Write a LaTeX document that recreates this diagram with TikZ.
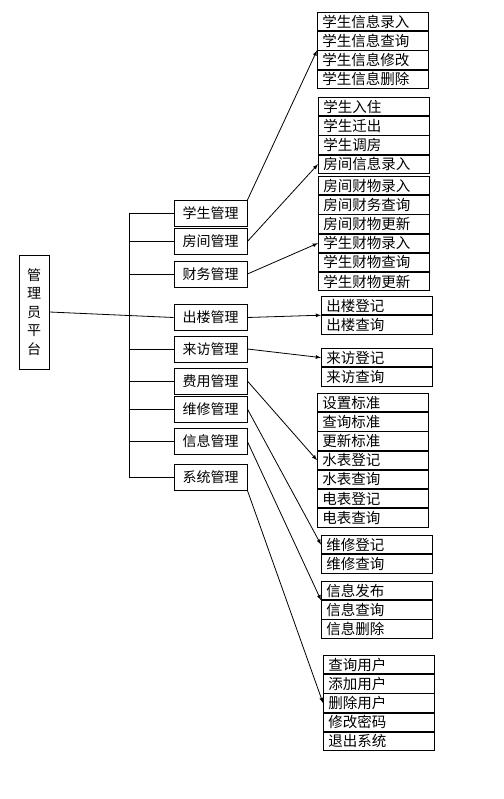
\documentclass[tikz,border=0pt]{standalone}
\usepackage{fontspec}
\newfontfamily\cjk{Noto Sans CJK SC}
\usetikzlibrary{positioning}

\begin{document}
\begin{tikzpicture}[x=1pt, y=-1pt, line width=0.8pt,
    sub/.style={draw, minimum width=73pt, minimum height=26pt, inner sep=0pt, font=\cjk\fontsize{14}{16}\selectfont},
    item/.style={draw, minimum height=18.4pt, inner xsep=5pt, inner ysep=0pt, text width=101pt, text height=14pt, text depth=3pt,
                 align=left, font=\cjk\fontsize{14.5}{16}\selectfont}]

        \useasboundingbox (0, 0) rectangle (503, 799);

        \node[draw, minimum width=30pt, minimum height=114pt, inner sep=0pt, align=center,
              font=\cjk\fontsize{14}{18.6}\selectfont] (pt) at (34, 312) {管\\理\\员\\平\\台};

        \node[sub] (xsgl) at (210.5, 213.5) {学生管理};
        \node[sub] (fjgl) at (210.5, 241.5) {房间管理};
        \node[sub] (cwgl) at (210.5, 274) {财务管理};
        \node[sub] (clgl) at (210.5, 317.5) {出楼管理};
        \node[sub] (lfgl) at (210.5, 349) {来访管理};
        \node[sub] (fygl) at (210.5, 381) {费用管理};
        \node[sub] (wxgl) at (210.5, 409) {维修管理};
        \node[sub] (xxgl) at (210.5, 441.5) {信息管理};
        \node[sub] (xtgl) at (210.5, 477) {系统管理};

        % bus
        \coordinate (bus) at (129, 0);
        \draw (pt.east) -- (clgl.west);
        \draw (xsgl.west -| bus) -- (xtgl.west -| bus);
        \draw (xsgl.west) -- (xsgl.west -| bus);
        \draw (fjgl.west) -- (fjgl.west -| bus);
        \draw (cwgl.west) -- (cwgl.west -| bus);
        \draw (lfgl.west) -- (lfgl.west -| bus);
        \draw (fygl.west) -- (fygl.west -| bus);
        \draw (wxgl.west) -- (wxgl.west -| bus);
        \draw (xxgl.west) -- (xxgl.west -| bus);
        \draw (xtgl.west) -- (xtgl.west -| bus);

        \node[item, anchor=north west] (xs1) at (317, 12) {学生信息录入};
        \node[item, below=0pt of xs1] (xs2) {学生信息查询};
        \node[item, below=0pt of xs2] (xs3) {学生信息修改};
        \node[item, below=0pt of xs3] (xs4) {学生信息删除};

        \node[item, anchor=north west] (fj1) at (318, 97) {学生入住};
        \node[item, below=0pt of fj1] (fj2) {学生迁出};
        \node[item, below=0pt of fj2] (fj3) {学生调房};
        \node[item, below=0pt of fj3] (fj4) {房间信息录入};

        \node[item, anchor=north west] (cw1) at (318, 176) {房间财物录入};
        \node[item, below=0pt of cw1] (cw2) {房间财务查询};
        \node[item, below=0pt of cw2] (cw3) {房间财物更新};
        \node[item, below=0pt of cw3] (cw4) {学生财物录入};
        \node[item, below=0pt of cw4] (cw5) {学生财物查询};
        \node[item, below=0pt of cw5] (cw6) {学生财物更新};

        \node[item, anchor=north west] (cl1) at (321, 296) {出楼登记};
        \node[item, below=0pt of cl1] (cl2) {出楼查询};

        \node[item, anchor=north west] (lf1) at (321, 348) {来访登记};
        \node[item, below=0pt of lf1] (lf2) {来访查询};

        \node[item, anchor=north west] (fy1) at (317, 393) {设置标准};
        \node[item, below=0pt of fy1] (fy2) {查询标准};
        \node[item, below=0pt of fy2] (fy3) {更新标准};
        \node[item, below=0pt of fy3] (fy4) {水表登记};
        \node[item, below=0pt of fy4] (fy5) {水表查询};
        \node[item, below=0pt of fy5] (fy6) {电表登记};
        \node[item, below=0pt of fy6] (fy7) {电表查询};

        \node[item, anchor=north west] (wx1) at (321, 535) {维修登记};
        \node[item, below=0pt of wx1] (wx2) {维修查询};

        \node[item, anchor=north west] (xx1) at (321, 581) {信息发布};
        \node[item, below=0pt of xx1] (xx2) {信息查询};
        \node[item, below=0pt of xx2] (xx3) {信息删除};

        \node[item, anchor=north west] (xt1) at (323, 655) {查询用户};
        \node[item, below=0pt of xt1] (xt2) {添加用户};
        \node[item, below=0pt of xt2] (xt3) {删除用户};
        \node[item, below=0pt of xt3] (xt4) {修改密码};
        \node[item, below=0pt of xt4] (xt5) {退出系统};

        \draw[-latex] (xsgl.north east) -- (xs2.south west);
        \draw[-latex] (fjgl.east) -- (fj4.west);
        \draw[-latex] (cwgl.east) -- (cw4.west);
        \draw[-latex] (clgl.east) -- (cl1.south west);
        \draw[-latex] (lfgl.east) -- (lf1.west);
        \draw[-latex] (fygl.east) -- (fy4.west);
        \draw[-latex] (wxgl.east) -- (wx1.west);
        \draw[-latex] (xxgl.east) -- (xx1.south west);
        \draw[-latex] (xtgl.south east) -- (xt3.west);
    \end{tikzpicture}
\end{document}
